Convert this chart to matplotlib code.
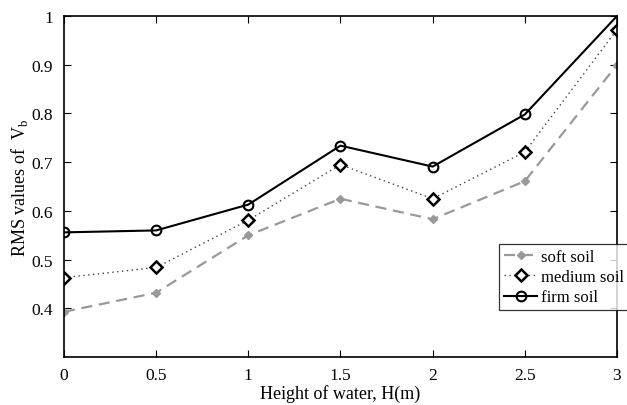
import matplotlib
matplotlib.use("Agg")
import matplotlib.pyplot as plt

heights = [0, 0.5, 1, 1.5, 2, 2.5, 3]
soft = [0.393, 0.432, 0.550, 0.625, 0.583, 0.661, 0.900]
medium = [0.463, 0.484, 0.581, 0.695, 0.625, 0.721, 0.972]
firm = [0.556, 0.560, 0.613, 0.734, 0.691, 0.798, 1.000]
xticks = [0, 0.5, 1, 1.5, 2, 2.5, 3]
xticklabels = ["0", "0.5", "1", "1.5", "2", "2.5", "3"]
yticks = [0.4, 0.5, 0.6, 0.7, 0.8, 0.9, 1.0]
yticklabels = ["0.4", "0.5", "0.6", "0.7", "0.8", "0.9", "1"]

plt.rcParams['font.family'] = ['Liberation Serif', 'DejaVu Serif']

fig = plt.figure(figsize=(6.27, 4.06), dpi=100)
ax = fig.add_axes([0.102, 0.118, 0.882, 0.840])

ax.plot(heights, soft, linestyle=(0, (5, 3)), color='#999999', lw=1.6,
        marker='D', ms=4.5, mfc='#999999', mec='#999999', label='soft soil')
ax.plot(heights, medium, linestyle=(0, (1, 2.5)), color='#444444', lw=1.0,
        marker='D', ms=6, mfc='white', mec='black', mew=1.8, label='medium soil')
ax.plot(heights, firm, linestyle='-', color='black', lw=1.5,
        marker='o', ms=7, mfc='none', mec='black', mew=1.5, label='firm soil',
        markevery=list(range(len(heights) - 1)))

ax.set_xlim(0, 3)
ax.set_ylim(0.3, 1.0)
ax.set_xticks(xticks)
ax.set_xticklabels(xticklabels)
ax.set_yticks(yticks)
ax.set_yticklabels(yticklabels)
ax.tick_params(direction='in', top=True, right=True, length=5, width=0.8,
               labelsize=12.5)
ax.tick_params(axis='x', pad=7)
ax.tick_params(axis='y', pad=8)
for s in ax.spines.values():
    s.set_linewidth(1.2)

ax.set_xlabel('Height of water, H(m)', fontsize=13, labelpad=1)
ax.set_ylabel(r'RMS values of  V$_\mathregular{b}$', fontsize=13, labelpad=1)

leg = fig.legend(loc='upper left', bbox_to_anchor=(499/627, 1-245/406),
                 fontsize=12, frameon=True, fancybox=False, edgecolor='black',
                 handlelength=2.0, handletextpad=0.2, borderpad=0.3,
                 labelspacing=0.25, borderaxespad=0)
leg.get_frame().set_linewidth(0.9)

fig.savefig('out.png', dpi=100)
